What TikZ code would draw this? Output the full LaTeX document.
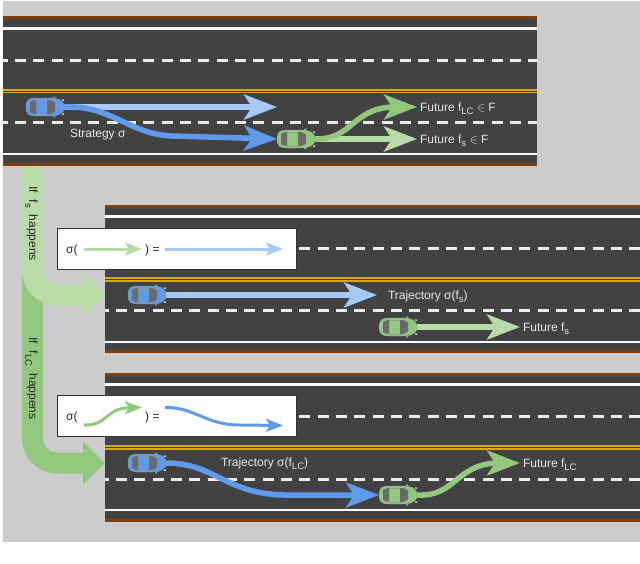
\documentclass[tikz,border=0pt]{standalone}
\usepackage{fontspec}
\setmainfont{Liberation Sans}
\usetikzlibrary{arrows.meta,calc}
\definecolor{bgc}{HTML}{CCCCCC}
\definecolor{roadc}{HTML}{424242}
\definecolor{brownc}{HTML}{7A3F0C}
\definecolor{yellowc}{HTML}{D8A521}
\definecolor{bluedark}{HTML}{5F9BEA}
\definecolor{bluelight}{HTML}{A7C9F6}
\definecolor{greendark}{HTML}{92C77E}
\definecolor{greenlight}{HTML}{B8DCA8}
\definecolor{labc}{HTML}{E8E8E8}
\newcommand{\lowtxt}[1]{\raisebox{-3.6pt}{\fontsize{9.5}{9.5}\selectfont #1}}
\tikzset{
  fatarrow/.style={line width=5.5pt,-{Stealth[length=33pt,width=25pt,inset=8pt]}},
  thinarrow/.style={line width=3pt,-{Stealth[length=17pt,width=13pt,inset=4pt]}},
  bigarrow/.style={line width=21pt,rounded corners=25pt,-{Triangle[length=22pt,width=42pt]}},
  carbox/.style={minimum width=38pt,minimum height=20pt,inner sep=0pt,outer sep=0pt},
  lab/.style={anchor=west,text=labc,font=\fontsize{12}{14}\selectfont,inner ysep=0pt,inner xsep=3pt,outer sep=0pt,text height=10pt,text depth=2pt},
  sidelab/.style={anchor=west,rotate=-90,text=black!85,font=\fontsize{12}{14}\selectfont,inner sep=0pt,text height=10pt,text depth=2pt},
  paneltext/.style={anchor=west,text=black!85,font=\fontsize{12}{14}\selectfont,inner sep=0pt,text height=10pt,text depth=2pt},
  panelbox/.style={anchor=north west,fill=white,draw=black!80,line width=1pt,minimum width=239pt,minimum height=41pt,inner sep=0pt},
  roadbox/.style={anchor=north west,fill=roadc,inner sep=0pt,outer sep=0pt},
}
% x0, x1, brown top, white 1, dash 1, yellow, dash 2, white 2, brown bottom
\newcommand{\roadlines}[9]{%
  \fill[brownc] (#1,#3) rectangle (#2,#3+3);
  \fill[brownc] (#1,#9-3) rectangle (#2,#9);
  \draw[white,line width=2.8pt] (#1,#4) -- (#2,#4);
  \draw[white,line width=2.8pt] (#1,#8) -- (#2,#8);
  \draw[yellowc,line width=1.8pt] (#1,#6-1.4) -- (#2,#6-1.4);
  \draw[yellowc,line width=1.8pt] (#1,#6+1.4) -- (#2,#6+1.4);
  \draw[white!92!black,line width=3pt,dash pattern=on 11pt off 7.33pt,dash phase=\roadphase] (#1,#5) -- (#2,#5);
  \draw[white!92!black,line width=3pt,dash pattern=on 11pt off 7.33pt,dash phase=\roadphase] (#1,#7) -- (#2,#7);
}
\newcommand{\carshape}[2]{%
  \begin{scope}[shift={(#1.center)}]
    \fill[#2] (8,-9) -- (9,-11) -- (11,-8.5) -- cycle;
    \fill[#2] (8,9) -- (9,11) -- (11,8.5) -- cycle;
    \fill[#2,draw=black!40,line width=.4pt] (-19,0) .. controls (-19,-7) and (-16,-9) .. (-9,-9)
      -- (5,-9) .. controls (13,-9) and (19,-7) .. (19,0)
      .. controls (19,7) and (13,9) .. (5,9) -- (-9,9)
      .. controls (-16,9) and (-19,7) .. (-19,0) -- cycle;
    \fill[black!58] (-15,-5) .. controls (-12,-7) and (-10,-7) .. (-9,-7) -- (-9,7) .. controls (-10,7) and (-12,7) .. (-15,5) -- cycle;
    \fill[black!58] (2,-7) -- (5,-7) .. controls (8,-6) and (10,-5) .. (10,-4) -- (10,4) .. controls (10,5) and (8,6) .. (5,7) -- (2,7) -- cycle;
    \fill[white] (18,-7) circle[radius=1];
    \fill[white] (18,7) circle[radius=1];
    \draw[black!40,line width=.4pt] (-9,-7) -- (2,-7) (-9,7) -- (2,7);
  \end{scope}}
\begin{document}
\begin{tikzpicture}[x=1pt,y=-1pt]
\useasboundingbox (0,0) rectangle (640,563);
\fill[white] (0,0) rectangle (640,563);
\fill[bgc] (3,1) rectangle (640,542);

% roads
\node[roadbox,minimum width=534pt,minimum height=150pt] (roadA) at (3,16) {};
\node[roadbox,minimum width=535pt,minimum height=148pt] (roadB) at (105,205) {};
\node[roadbox,minimum width=535pt,minimum height=149pt] (roadC) at (105,373) {};
\def\roadphase{6.33pt}
\roadlines{3}{537}{16}{28.5}{60}{91}{122}{154}{166}
\def\roadphase{7.3pt}
\roadlines{105}{640}{205}{216.5}{248}{279.5}{310.7}{342}{353}
\roadlines{105}{640}{373}{384.7}{416}{447.5}{479}{510}{522}

% big turn arrows
\coordinate (startS) at (32.5,166);
\coordinate (entryB) at (105,295);
\coordinate (entryC) at (105,463);
\draw[bigarrow,greendark] (startS) |- (entryC);
\draw[bigarrow,greenlight] (startS) |- (entryB);
\node[sidelab] (ifS) at (33,186) {If\hspace{7pt}f\lowtxt{s}\hspace{7pt}happens};
\node[sidelab] (ifLC) at (33,337) {If\hspace{7pt}f\lowtxt{LC}\hspace{7pt}happens};

% panels
\node[panelbox] (panelB) at (57,228) {};
\node[panelbox] (panelC) at (57,395) {};
\node[paneltext] (sigB) at (66,249) {σ(};
\node[paneltext] (eqB) at (145,249) {) =};
\node[paneltext] (sigC) at (66,416) {σ(};
\node[paneltext] (eqC) at (145,416) {) =};
\coordinate (pb1) at (84,249); \coordinate (pb2) at (142,249);
\coordinate (pb3) at (165,249); \coordinate (pb4) at (283,249);
\coordinate (pc1) at (84,425); \coordinate (pc2) at (142,407.5);
\coordinate (pc3) at (165,407.5); \coordinate (pc4) at (283,425.5);
\draw[thinarrow,greenlight] (pb1) -- (pb2);
\draw[thinarrow,bluelight] (pb3) -- (pb4);
\draw[thinarrow,greendark] (pc1) .. controls (108,426) and (105,408) .. (pc2);
\draw[thinarrow,bluedark] (pc3) .. controls (195,407) and (205,425) .. (240,425) -- (pc4);

% cars
\node[carbox] (carA) at (45,107) {};
\node[carbox] (carAf) at (296,139) {};
\node[carbox] (carB) at (147,295) {};
\node[carbox] (carBf) at (398,327) {};
\node[carbox] (carC) at (147,463) {};
\node[carbox] (carCf) at (398,495) {};

% labels
\node[lab,inner xsep=0pt] (strat) at (70,133) {Strategy σ};
\node[lab] (flcA) at (417,107) {Future f\lowtxt{LC}\hspace{4pt}$\in$\hspace{3pt}F};
\node[lab] (fsA) at (417,139) {Future f\lowtxt{s}\hspace{4pt}$\in$\hspace{3pt}F};
\node[lab,inner xsep=11pt] (trajB) at (377,295) {Trajectory σ(f\lowtxt{s})};
\node[lab] (fsB) at (520,327) {Future f\lowtxt{s}};
\node[lab,inner xsep=0pt] (trajC) at (221,462) {Trajectory σ(f\lowtxt{LC})};
\node[lab] (flcC) at (520,463) {Future f\lowtxt{LC}};

% road A connectors
\coordinate (tipA) at (277,107);
\draw[fatarrow,bluelight] (carA.east) -- (tipA);
\draw[fatarrow,bluedark] (carA.east) .. controls (112,105) and (128,134) .. (172,136) -- (carAf.west);
\draw[fatarrow,greenlight] (carAf.east) -- (fsA.west);
\draw[fatarrow,greendark] (carAf.east) .. controls (352,140) and (352,109) .. (392,107) -- (flcA.west);
% road B connectors
\draw[fatarrow,bluelight] (carB.east) -- (trajB.west);
\draw[fatarrow,greenlight] (carBf.east) -- (fsB.west);
% road C connectors
\draw[fatarrow,bluedark] (carC.east) .. controls (215,463) and (225,494) .. (285,495) -- (carCf.west);
\draw[fatarrow,greendark] (carCf.east) .. controls (455,497) and (455,466) .. (495,463) -- (flcC.west);

% cars on top
\carshape{carA}{bluedark}
\carshape{carAf}{greendark}
\carshape{carB}{bluedark}
\carshape{carBf}{greendark}
\carshape{carC}{bluedark}
\carshape{carCf}{greendark}
\end{tikzpicture}
\end{document}
